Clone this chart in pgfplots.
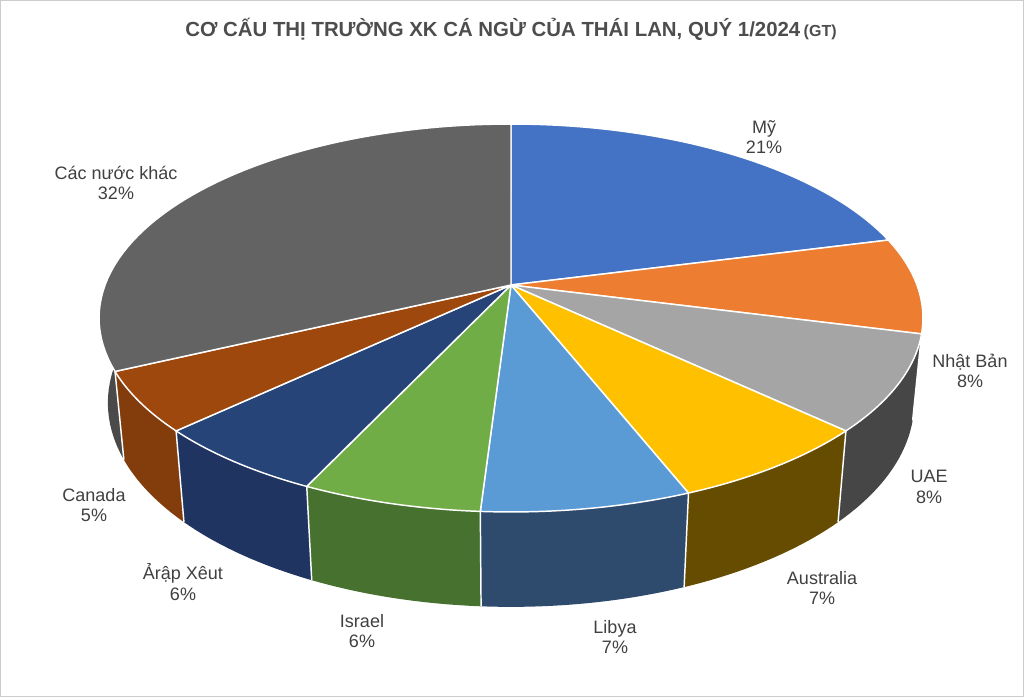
\documentclass[border=0pt]{standalone}
\usepackage{pgfplots}
\pgfplotsset{compat=1.18}
\usepackage{pgfplotstable}
\usepgfplotslibrary{fillbetween}
\usepackage{fontspec}
\setmainfont{Liberation Sans}

\definecolor{c0}{HTML}{4472C4}
\definecolor{c1}{HTML}{ED7D31}
\definecolor{c2}{HTML}{A5A5A5}
\definecolor{c3}{HTML}{FFC000}
\definecolor{c4}{HTML}{5B9BD5}
\definecolor{c5}{HTML}{70AD47}
\definecolor{c6}{HTML}{264478}
\definecolor{c7}{HTML}{9E480E}
\definecolor{c8}{HTML}{636363}
\definecolor{w0}{HTML}{2F528F}
\definecolor{w1}{HTML}{9C5220}
\definecolor{w2}{HTML}{464646}
\definecolor{w3}{HTML}{664C00}
\definecolor{w4}{HTML}{2E4B6E}
\definecolor{w5}{HTML}{47712F}
\definecolor{w6}{HTML}{1F3461}
\definecolor{w7}{HTML}{833C0B}
\definecolor{w8}{HTML}{4A4A4A}
\definecolor{txt}{HTML}{404040}
\definecolor{ttl}{HTML}{4D4D4D}

\pgfplotstableread{
label value
My 21
NhatBan 8
UAE 8
Australia 7
Libya 7
Israel 6
ArapXeut 6
Canada 5
Khac 32
}\pietable

\tikzset{
  declare function={
    pcx=511; pcy=285; pK=2115; pD=5.21; pse=0.464; pce=0.886; phh=0.238;
    px(\p,\z)=pcx + pK*sin(\p)/(pD + cos(\p)*pce - \z*pse);
    py(\p,\z)=pcy - pK*(cos(\p)*pse + \z*pce)/(pD + cos(\p)*pce - \z*pse);
  }
}

\begin{document}%
\begin{tikzpicture}
\def\cum{0}
\pgfplotsforeachungrouped \i in {0,...,8}{%
  \pgfplotstablegetelem{\i}{value}\of\pietable
  \pgfmathsetmacro\nxt{\cum+3.6*\pgfplotsretval}%
  \expandafter\xdef\csname sa\i\endcsname{\cum}%
  \expandafter\xdef\csname sb\i\endcsname{\nxt}%
  \xdef\cum{\nxt}%
}
\begin{axis}[width=768pt, height=522.75pt, scale only axis,
  xmin=0, xmax=1024, ymin=0, ymax=697, y dir=reverse,
  hide axis, clip=false]
\draw[color=black!20, line width=0.75pt] (axis cs:0.5,0.5) rectangle (axis cs:1023.5,696.5);
% side walls
\pgfplotsinvokeforeach{0,...,8}{
  \addplot[draw=none, name path=T#1, domain=\csname sa#1\endcsname:\csname sb#1\endcsname, samples=60]
    ({px(x,0)},{py(x,0)});
  \addplot[draw=none, name path=B#1, domain=\csname sa#1\endcsname:\csname sb#1\endcsname, samples=60]
    ({px(x,-phh)},{py(x,-phh)});
  \addplot[fill=w#1, draw=none] fill between[of=T#1 and B#1];
}
% seams
\pgfplotsinvokeforeach{1,...,7}{
  \addplot[white, line width=1.1pt, domain=0:1, samples=2]
    ({px(\csname sb#1\endcsname,-phh*x)},{py(\csname sb#1\endcsname,-phh*x)});
}
% top faces
\pgfplotsinvokeforeach{0,...,8}{
  \addplot[fill=c#1, draw=white, line width=1.1pt, line join=round,
    domain=\csname sa#1\endcsname:\csname sb#1\endcsname, samples=60]
    ({px(x,0)},{py(x,0)}) -- (axis cs:511,285) -- cycle;
}
% title
\node[font=\bfseries\fontsize{15.3}{18}\selectfont, text=ttl] at (axis cs:511,29)
  {CƠ CẤU THỊ TRƯỜNG XK CÁ NGỪ CỦA THÁI LAN, QUÝ 1/2024\,{\fontsize{12}{14}\selectfont(GT)}};
% labels
\tikzset{lbl/.style={font=\fontsize{13.5}{15.2}\selectfont, text=txt, align=center, inner sep=0pt}}
\node[lbl] at (axis cs:764,137) {Mỹ\\21\%};
\node[lbl] at (axis cs:970,371) {Nhật Bản\\8\%};
\node[lbl] at (axis cs:929,487) {UAE\\8\%};
\node[lbl] at (axis cs:822,588) {Australia\\7\%};
\node[lbl] at (axis cs:615,637) {Libya\\7\%};
\node[lbl] at (axis cs:362,631) {Israel\\6\%};
\node[lbl] at (axis cs:183,582) {Ảrập Xêut\\6\%};
\node[lbl] at (axis cs:94,505) {Canada\\5\%};
\node[lbl] at (axis cs:116,183) {Các nước khác\\32\%};
\end{axis}
\end{tikzpicture}%
\end{document}
